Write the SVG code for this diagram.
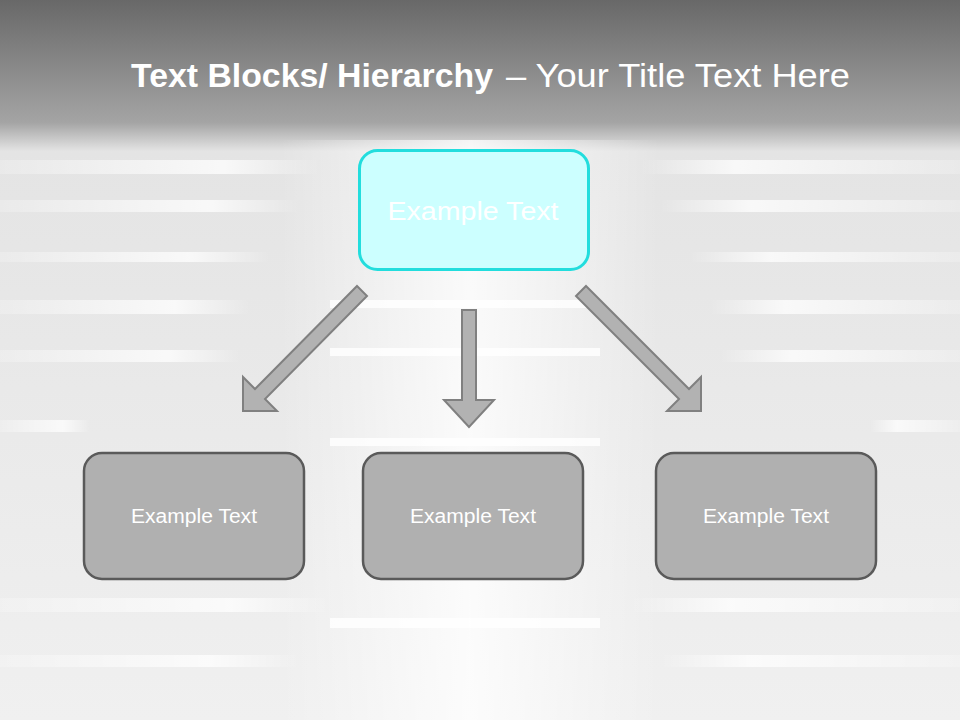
<svg xmlns="http://www.w3.org/2000/svg" width="960" height="720" viewBox="0 0 960 720">
<style>
.title{font-family:"Liberation Sans",Arial,sans-serif;font-size:34px;fill:#ffffff}
.lbl{font-family:"Liberation Sans",Arial,sans-serif;fill:#ffffff;text-anchor:middle}
.box{fill:#b0b0b0;stroke:#5a5a5a;stroke-width:2.5}
.arrow{fill:#b2b2b2;stroke:#808080;stroke-width:2;stroke-linejoin:miter}
.sl{fill:url(#sl)}
.sr{fill:url(#sr)}
.sc{fill:#ffffff;opacity:0.8}
</style>
<defs>
<linearGradient id="bg" x1="0" y1="0" x2="0" y2="1">
<stop offset="0" stop-color="#686868"/>
<stop offset="0.17" stop-color="#a4a4a4"/>
<stop offset="0.21" stop-color="#e4e4e4"/>
<stop offset="1" stop-color="#f0f0f0"/>
</linearGradient>
<linearGradient id="col" x1="0" y1="0" x2="1" y2="0">
<stop offset="0" stop-color="#ffffff" stop-opacity="0"/>
<stop offset="0.5" stop-color="#ffffff" stop-opacity="0.8"/>
<stop offset="1" stop-color="#ffffff" stop-opacity="0"/>
</linearGradient>
<linearGradient id="sl" x1="0" y1="0" x2="1" y2="0">
<stop offset="0" stop-color="#ffffff" stop-opacity="0.2"/>
<stop offset="0.7" stop-color="#ffffff" stop-opacity="0.75"/>
<stop offset="1" stop-color="#ffffff" stop-opacity="0"/>
</linearGradient>
<linearGradient id="sr" x1="1" y1="0" x2="0" y2="0">
<stop offset="0" stop-color="#ffffff" stop-opacity="0.2"/>
<stop offset="0.7" stop-color="#ffffff" stop-opacity="0.75"/>
<stop offset="1" stop-color="#ffffff" stop-opacity="0"/>
</linearGradient>
</defs>
<g id="background">
<rect x="0" y="0" width="960" height="720" fill="url(#bg)"/>
<rect x="280" y="140" width="380" height="580" fill="url(#col)"/>
<rect class="sl" x="0" y="160" width="320" height="14"/>
<rect class="sl" x="0" y="200" width="300" height="12"/>
<rect class="sl" x="0" y="252" width="270" height="10"/>
<rect class="sl" x="0" y="300" width="250" height="14"/>
<rect class="sl" x="0" y="350" width="240" height="12"/>
<rect class="sl" x="0" y="420" width="90" height="12"/>
<rect class="sl" x="0" y="598" width="330" height="14"/>
<rect class="sl" x="0" y="655" width="300" height="12"/>
<rect class="sr" x="640" y="160" width="320" height="14"/>
<rect class="sr" x="660" y="200" width="300" height="12"/>
<rect class="sr" x="690" y="252" width="270" height="10"/>
<rect class="sr" x="710" y="300" width="250" height="14"/>
<rect class="sr" x="720" y="350" width="240" height="12"/>
<rect class="sr" x="870" y="420" width="90" height="12"/>
<rect class="sr" x="630" y="598" width="330" height="14"/>
<rect class="sr" x="660" y="655" width="300" height="12"/>
<rect class="sc" x="330" y="300" width="270" height="8"/>
<rect class="sc" x="330" y="348" width="270" height="8"/>
<rect class="sc" x="330" y="438" width="270" height="8"/>
<rect class="sc" x="330" y="618" width="270" height="10"/>
</g>
<g id="title">
<text class="title" x="131" y="87" font-weight="bold" textLength="362" lengthAdjust="spacingAndGlyphs">Text Blocks/ Hierarchy</text>
<text class="title" x="506" y="87" textLength="344" lengthAdjust="spacingAndGlyphs">– Your Title Text Here</text>
</g>
<g id="connectors">
<polygon class="arrow" points="357,286 367,296 265,399 277,411 243,411 243,377 255,389"/>
<polygon class="arrow" points="462,310 476,310 476,400 494,400 469,427 444,400 462,400"/>
<polygon class="arrow" points="586,286 689,389 701,377 701,411 667,411 679,399 576,296"/>
</g>
<g id="node-top">
<rect x="359.5" y="150.5" width="229" height="119" rx="18" fill="#ccffff" stroke="#22dddd" stroke-width="3"/>
<text class="lbl" x="473" y="220" font-size="25" textLength="171" lengthAdjust="spacingAndGlyphs">Example Text</text>
</g>
<g id="node-left">
<rect class="box" x="84" y="453" width="220" height="126" rx="18"/>
<text class="lbl" x="194" y="523" font-size="20" textLength="126" lengthAdjust="spacingAndGlyphs">Example Text</text>
</g>
<g id="node-middle">
<rect class="box" x="363" y="453" width="220" height="126" rx="18"/>
<text class="lbl" x="473" y="523" font-size="20" textLength="126" lengthAdjust="spacingAndGlyphs">Example Text</text>
</g>
<g id="node-right">
<rect class="box" x="656" y="453" width="220" height="126" rx="18"/>
<text class="lbl" x="766" y="523" font-size="20" textLength="126" lengthAdjust="spacingAndGlyphs">Example Text</text>
</g>
</svg>
